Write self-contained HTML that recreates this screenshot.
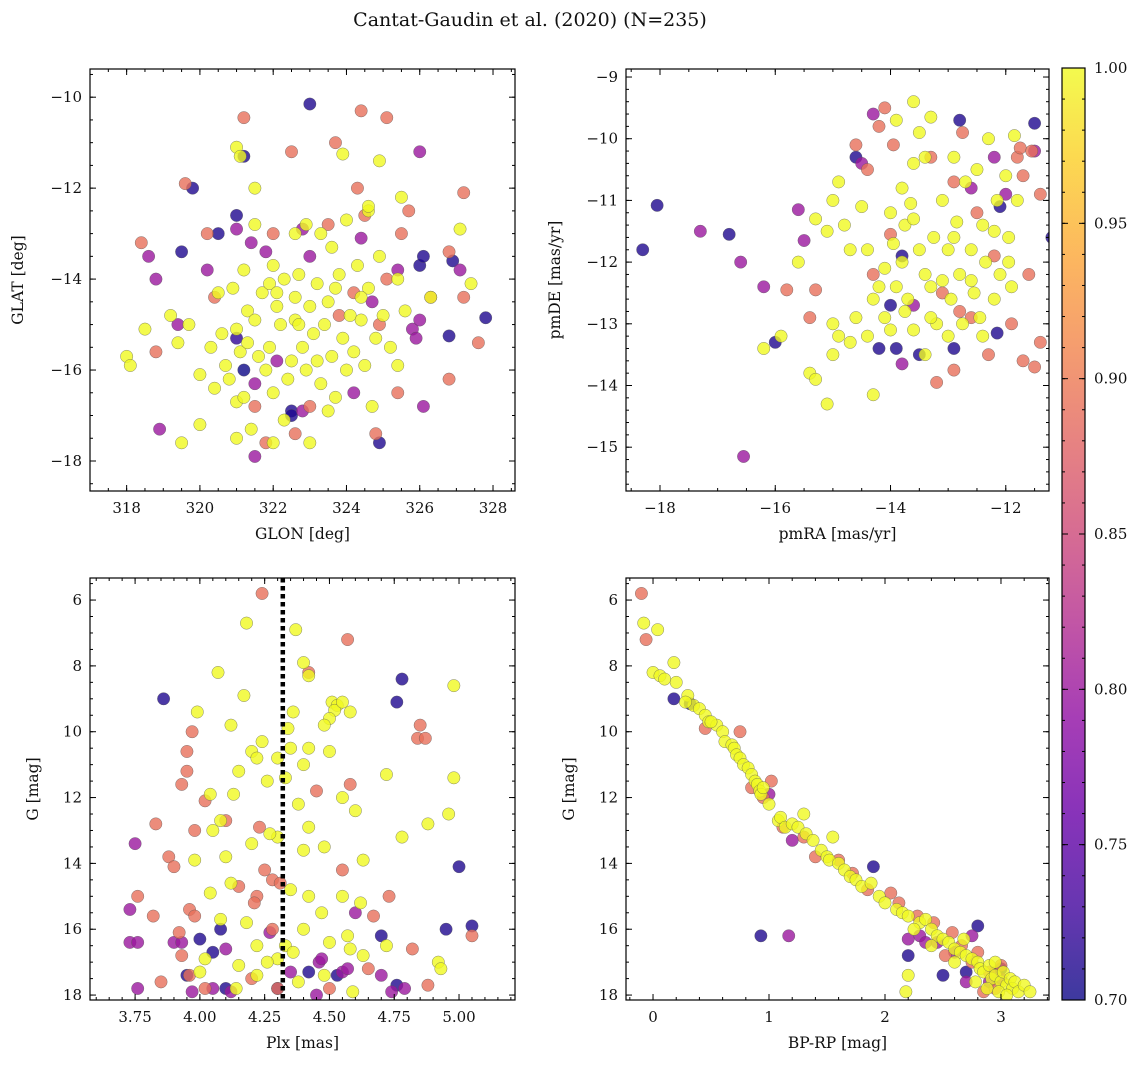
<!DOCTYPE html>
<html><head><meta charset="utf-8">
<style>
html,body{margin:0;padding:0;background:#fff;}
svg text{font-family:"DejaVu Serif","Liberation Serif",serif;fill:#111;}
</style></head>
<body>
<svg id="fig" width="1148" height="1068" viewBox="0 0 1148 1068" xmlns="http://www.w3.org/2000/svg">
<text x="530" y="26" font-size="19" text-anchor="middle">Cantat-Gaudin et al. (2020) (N=235)</text>
</svg>
<script>
// ---------- Data ----------
const glonGlat = [
[323.0,-10.15,.71],[319.8,-12.0,.71],[321.2,-11.3,.71],[321.0,-12.6,.71],[320.5,-13.0,.71],[319.5,-13.4,.71],[326.0,-13.7,.71],[326.1,-13.5,.71],[326.9,-13.6,.71],[327.8,-14.85,.71],[326.8,-15.25,.71],[321.2,-16.0,.7],[322.5,-16.9,.71],[322.5,-17.0,.71],[324.9,-17.6,.71],[321.0,-15.3,.72],
[321.2,-10.45,.89],[324.4,-10.3,.89],[325.1,-10.45,.89],[322.5,-11.2,.89],[323.7,-11.0,.89],[327.2,-12.1,.89],[319.6,-11.9,.89],[318.4,-13.2,.89],[320.2,-13.0,.89],[324.3,-12.0,.89],[325.7,-12.5,.89],[323.5,-12.8,.89],[324.5,-12.6,.89],[325.5,-13.0,.89],[326.8,-13.4,.89],[318.8,-15.6,.89],[320.4,-14.4,.89],[326.3,-14.4,.89],[327.2,-14.4,.89],[327.6,-15.4,.89],[326.8,-16.2,.89],[325.4,-16.5,.89],[324.8,-17.4,.89],[322.6,-17.4,.89],[321.8,-17.6,.89],[323.0,-16.8,.89],[324.9,-15.0,.89],[325.1,-14.0,.89],[324.2,-14.3,.89],[321.5,-16.8,.89],[322.0,-13.0,.89],[323.8,-14.8,.89],
[321.0,-12.9,.8],[318.6,-13.5,.8],[318.8,-14.0,.8],[320.2,-13.8,.8],[322.8,-12.9,.8],[321.4,-13.2,.8],[324.4,-13.1,.8],[321.8,-13.4,.8],[323.0,-13.5,.8],[326.0,-11.2,.8],[325.4,-13.8,.8],[324.7,-14.5,.8],[325.8,-15.1,.8],[326.0,-14.9,.8],[327.1,-13.8,.8],[325.9,-15.3,.8],[319.4,-15.0,.8],[318.9,-17.3,.8],[321.5,-17.9,.8],[322.1,-15.8,.8],[324.2,-16.5,.8],[326.1,-16.8,.8],[322.8,-16.9,.8],[321.5,-16.3,.8],
[321.0,-11.1,1],[321.1,-11.3,1],[323.9,-11.25,1],[324.9,-11.4,1],[321.5,-12.0,1],[321.5,-12.8,1],[322.6,-13.0,1],[322.9,-12.8,1],[323.3,-13.0,1],[324.6,-12.5,1],[324.6,-12.4,1],[324.0,-12.7,1],[325.5,-12.2,1],[327.1,-12.9,1],[325.4,-14.0,1],[325.6,-14.7,1],[326.3,-14.4,1],[327.4,-14.1,1],[318.0,-15.7,1],[318.1,-15.9,1],[318.5,-15.1,1],[319.2,-14.8,1],[319.4,-15.4,1],[319.5,-17.6,1],[320.0,-17.2,1],[320.0,-16.1,1],[320.3,-15.5,1],[320.4,-16.4,1],[320.5,-14.3,1],[320.7,-15.9,1],[320.9,-14.2,1],[321.0,-15.1,1],[321.0,-16.7,1],[321.1,-15.6,1],[321.2,-16.6,1],[321.3,-14.7,1],[321.3,-15.4,1],[321.4,-17.3,1],[321.5,-14.9,1],[321.6,-15.7,1],[321.7,-14.3,1],[321.8,-16.0,1],[321.9,-14.1,1],[321.9,-15.5,1],[322.0,-16.5,1],[322.0,-17.6,1],[322.1,-14.6,1],[322.2,-15.0,1],[322.3,-14.0,1],[322.4,-16.2,1],[322.5,-15.8,1],[322.6,-14.4,1],[322.6,-14.9,1],[322.7,-13.9,1],[322.8,-15.5,1],[322.9,-16.0,1],[323.0,-14.6,1],[323.0,-17.6,1],[323.1,-15.2,1],[323.2,-14.1,1],[323.3,-16.3,1],[323.4,-15.0,1],[323.5,-14.5,1],[323.6,-15.7,1],[323.7,-16.6,1],[323.8,-13.9,1],[323.9,-15.3,1],[324.0,-16.0,1],[324.1,-14.8,1],[324.2,-15.6,1],[324.3,-13.7,1],[324.4,-14.9,1],[324.5,-15.9,1],[324.6,-14.2,1],[324.7,-16.8,1],[324.8,-15.3,1],[324.9,-13.5,1],[325.0,-14.8,1],[325.2,-15.5,1],[325.4,-15.9,1],[322.0,-13.7,1],[321.2,-13.8,1],[320.6,-15.2,1],[319.7,-15.0,1],[323.6,-13.3,1],[324.4,-14.4,1],[322.3,-17.1,1],[321.0,-17.5,1],[323.5,-16.9,1],[322.7,-15.0,1],[323.7,-14.2,1],[322.1,-14.3,1],[323.2,-15.8,1],[320.8,-16.2,1]
];
const pmraPmde = [
[-18.3,-11.8,.71],[-18.05,-11.08,.71],[-16.8,-11.55,.71],[-16.0,-13.3,.71],[-14.6,-10.3,.71],[-12.8,-9.7,.71],[-11.5,-9.75,.71],[-12.1,-11.1,.71],[-11.2,-11.6,.71],[-13.8,-11.9,.71],[-14.2,-13.4,.71],[-13.9,-13.4,.71],[-13.5,-13.5,.71],[-12.9,-13.4,.71],[-12.15,-13.15,.71],[-14.0,-12.7,.71],
[-17.3,-11.5,.8],[-16.6,-12.0,.8],[-16.2,-12.4,.8],[-15.6,-11.15,.8],[-15.5,-11.65,.8],[-14.3,-9.6,.8],[-14.5,-10.4,.8],[-12.2,-10.3,.8],[-12.0,-10.9,.8],[-11.5,-10.2,.8],[-11.15,-13.0,.8],[-13.8,-13.65,.8],[-16.55,-15.15,.8],[-12.6,-10.8,.8],[-13.6,-12.7,.8],
[-14.1,-9.5,.89],[-14.2,-9.8,.89],[-13.95,-10.1,.89],[-14.6,-10.1,.89],[-14.4,-10.5,.89],[-15.8,-12.45,.89],[-15.4,-12.9,.89],[-15.3,-12.45,.89],[-14.0,-11.55,.89],[-13.3,-10.3,.89],[-12.75,-9.9,.89],[-12.9,-10.7,.89],[-11.8,-10.3,.89],[-11.75,-10.15,.89],[-11.55,-10.2,.89],[-11.4,-10.9,.89],[-11.6,-12.2,.89],[-11.9,-13.0,.89],[-11.7,-13.6,.89],[-11.5,-13.7,.89],[-11.4,-13.3,.89],[-12.9,-13.75,.89],[-13.2,-13.95,.89],[-12.3,-13.5,.89],[-12.6,-12.9,.89],[-12.2,-11.9,.89],[-12.5,-11.2,.89],[-11.7,-10.6,.89],[-12.8,-12.8,.89],[-13.1,-12.5,.89],[-14.3,-12.2,.89],
[-13.6,-9.4,1],[-13.3,-9.65,1],[-13.9,-9.7,1],[-14.9,-10.7,1],[-15.0,-11.0,1],[-15.1,-11.5,1],[-15.3,-11.3,1],[-14.8,-11.4,1],[-14.4,-11.8,1],[-14.7,-11.8,1],[-15.6,-12.0,1],[-15.9,-13.2,1],[-16.2,-13.4,1],[-15.4,-13.8,1],[-15.3,-13.9,1],[-15.1,-14.3,1],[-15.0,-13.5,1],[-14.9,-13.2,1],[-15.0,-13.0,1],[-14.7,-13.3,1],[-14.6,-12.9,1],[-14.3,-14.15,1],[-14.2,-12.4,1],[-14.1,-12.9,1],[-14.0,-13.1,1],[-13.95,-11.7,1],[-13.9,-12.4,1],[-13.8,-12.0,1],[-13.8,-10.8,1],[-13.75,-11.4,1],[-13.7,-12.6,1],[-13.6,-10.4,1],[-13.6,-13.1,1],[-13.5,-11.8,1],[-13.4,-12.2,1],[-13.4,-10.3,1],[-13.3,-12.4,1],[-13.25,-11.6,1],[-13.2,-13.0,1],[-13.1,-11.0,1],[-13.1,-12.3,1],[-13.0,-11.8,1],[-12.95,-12.6,1],[-12.9,-10.3,1],[-12.85,-11.35,1],[-12.8,-12.2,1],[-12.75,-13.0,1],[-12.7,-10.7,1],[-12.6,-11.8,1],[-12.55,-12.5,1],[-12.5,-10.5,1],[-12.4,-11.4,1],[-12.35,-12.0,1],[-12.3,-10.0,1],[-12.2,-12.6,1],[-12.15,-11.0,1],[-12.1,-12.2,1],[-12.0,-10.6,1],[-11.95,-11.6,1],[-11.9,-12.4,1],[-11.85,-9.95,1],[-11.8,-11.0,1],[-13.65,-11.05,1],[-13.5,-9.9,1],[-14.0,-11.2,1],[-14.3,-12.6,1],[-13.75,-12.8,1],[-14.1,-12.1,1],[-13.3,-12.9,1],[-12.6,-12.3,1],[-13.0,-13.2,1],[-12.45,-12.9,1],[-14.5,-11.1,1],[-13.6,-11.3,1],[-12.9,-11.6,1],[-12.2,-11.5,1],[-11.95,-12.0,1],[-12.4,-13.2,1],[-13.4,-13.5,1],[-14.4,-13.2,1]
];
const plxG = [
[3.86,9.0,.71],[4.78,8.4,.71],[4.76,9.1,.71],[3.95,17.4,.71],[4.0,16.3,.71],[4.05,16.7,.71],[4.1,17.8,.71],[4.3,17.8,.71],[4.42,17.3,.71],[4.7,16.2,.71],[4.76,17.7,.71],[4.95,16.0,.71],[5.0,14.1,.71],[5.05,15.9,.71],[4.53,17.4,.71],[4.08,16.0,.71],
[3.75,13.4,.8],[3.73,15.4,.8],[3.73,16.4,.8],[3.76,16.4,.8],[3.9,16.4,.8],[3.93,16.4,.8],[3.76,17.8,.8],[4.1,16.6,.8],[4.12,17.9,.8],[4.05,17.8,.8],[4.27,16.1,.8],[4.35,17.3,.8],[4.46,17.0,.8],[4.55,17.3,.8],[4.57,17.2,.8],[4.7,17.4,.8],[4.74,17.9,.8],[4.47,16.9,.8],[4.6,15.5,.8],[4.45,18.0,.8],[3.97,17.9,.8],[4.79,17.8,.8],
[4.24,5.8,.89],[4.57,7.2,.89],[3.97,10.0,.89],[3.95,10.6,.89],[3.95,11.2,.89],[3.93,11.6,.89],[3.98,13.0,.89],[4.02,12.1,.89],[3.83,12.8,.89],[3.88,13.8,.89],[3.9,14.1,.89],[3.76,15.0,.89],[3.82,15.6,.89],[3.96,15.4,.89],[3.98,15.6,.89],[3.92,16.1,.89],[3.93,16.8,.89],[3.96,17.4,.89],[3.85,17.6,.89],[4.1,12.7,.89],[4.15,14.7,.89],[4.23,12.9,.89],[4.25,14.2,.89],[4.28,14.5,.89],[4.31,14.6,.89],[4.22,15.0,.89],[4.21,15.2,.89],[4.28,16.0,.89],[4.42,8.2,.89],[4.45,11.8,.89],[4.58,11.6,.89],[4.67,15.6,.89],[4.73,15.0,.89],[4.85,9.8,.89],[4.84,10.2,.89],[4.87,10.2,.89],[4.82,16.6,.89],[4.55,14.2,.89],[5.05,16.2,.89],[4.02,17.8,.89],[4.2,17.5,.89],[4.3,17.8,.89],[4.5,17.8,.89],[4.65,17.2,.89],[4.88,17.7,.89],
[4.18,6.7,1],[4.37,6.9,1],[4.07,8.2,1],[4.17,8.9,1],[4.4,7.9,1],[4.42,8.3,1],[4.51,9.1,1],[4.53,9.2,1],[4.52,9.35,1],[4.55,9.1,1],[4.5,9.6,1],[4.48,9.8,1],[4.58,9.4,1],[4.36,9.4,1],[3.99,9.4,1],[4.12,9.8,1],[4.34,9.9,1],[4.24,10.3,1],[4.2,10.6,1],[4.22,10.8,1],[4.3,10.8,1],[4.35,10.5,1],[4.42,10.5,1],[4.5,10.6,1],[4.4,11.0,1],[4.33,11.4,1],[4.15,11.2,1],[4.26,11.5,1],[4.04,11.9,1],[4.13,11.9,1],[4.08,12.7,1],[4.38,12.2,1],[4.42,12.9,1],[4.55,12.0,1],[4.6,12.4,1],[4.72,11.3,1],[4.98,8.6,1],[4.98,11.4,1],[4.96,12.5,1],[4.88,12.8,1],[4.78,13.2,1],[4.4,13.6,1],[4.48,13.5,1],[4.3,13.2,1],[4.27,13.1,1],[4.1,13.8,1],[4.05,13.0,1],[3.98,13.9,1],[4.12,14.6,1],[4.04,14.9,1],[4.08,15.7,1],[4.18,15.8,1],[4.35,14.8,1],[4.42,15.0,1],[4.47,15.5,1],[4.55,15.0,1],[4.62,15.2,1],[4.57,16.2,1],[4.58,16.6,1],[4.4,16.0,1],[4.33,16.5,1],[4.3,16.9,1],[4.92,17.0,1],[4.93,17.2,1],[4.0,17.3,1],[4.02,16.9,1],[4.15,17.1,1],[4.22,17.4,1],[4.14,17.8,1],[4.26,17.0,1],[4.38,17.6,1],[4.48,17.4,1],[4.59,17.9,1],[4.63,16.8,1],[4.72,16.5,1],[4.5,16.4,1],[4.22,16.5,1],[4.36,16.7,1],[4.63,13.9,1],[4.2,13.4,1]
];
const bprpG = [
[-0.1,5.8,.89],[-0.06,7.2,.89],[0.45,9.9,.89],[0.75,10.0,.89],[0.85,11.7,.89],[0.95,12.0,.89],[1.02,11.5,.89],[1.12,12.9,.89],[1.3,13.2,.89],[1.4,13.8,.89],[1.6,13.9,.89],[1.72,14.3,.89],[1.85,14.8,.89],[2.05,14.9,.89],[2.12,15.2,.89],[2.28,15.6,.89],[2.42,15.8,.89],[2.58,16.1,.89],[2.66,16.5,.89],[2.8,16.7,.89],[2.9,17.3,.89],[2.85,17.9,.89],[2.95,17.8,.89],[3.0,17.1,.89],[2.75,17.0,.89],[2.52,16.8,.89],
[1.17,16.2,.8],[1.2,13.3,.8],[2.3,16.2,.8],[2.35,16.4,.8],[2.45,16.4,.8],[2.6,16.7,.8],[2.75,16.2,.8],[2.7,17.6,.8],[2.9,17.6,.8],[2.95,17.3,.8],[3.0,17.5,.8],[2.2,16.3,.8],[1.0,11.9,.8],
[0.18,9.0,.71],[0.32,9.15,.71],[0.93,16.2,.71],[1.9,14.1,.71],[2.2,16.8,.71],[2.5,17.4,.71],[2.7,17.3,.71],[2.8,15.9,.71],[3.0,17.2,.71],
[-0.08,6.7,1],[0.04,6.9,1],[0.0,8.2,1],[0.06,8.3,1],[0.18,7.9,1],[0.1,8.4,1],[0.2,8.5,1],[0.3,8.9,1],[0.35,9.2,1],[0.4,9.3,1],[0.45,9.5,1],[0.48,9.7,1],[0.55,9.8,1],[0.6,10.0,1],[0.62,10.3,1],[0.68,10.4,1],[0.7,10.5,1],[0.72,10.7,1],[0.75,10.8,1],[0.78,11.0,1],[0.82,11.1,1],[0.85,11.3,1],[0.88,11.5,1],[0.9,11.6,1],[0.92,11.8,1],[0.93,11.9,1],[0.95,11.7,1],[1.08,12.7,1],[1.1,12.6,1],[1.14,12.9,1],[1.2,12.8,1],[1.25,12.9,1],[1.32,13.1,1],[1.38,13.3,1],[1.45,13.6,1],[1.5,13.8,1],[1.52,13.9,1],[1.6,14.0,1],[1.65,14.2,1],[1.7,14.4,1],[1.75,14.5,1],[1.8,14.7,1],[1.88,14.6,1],[1.95,15.0,1],[2.0,15.2,1],[2.1,15.4,1],[2.15,15.5,1],[2.2,15.6,1],[2.3,15.8,1],[2.35,15.7,1],[2.4,16.0,1],[2.45,16.2,1],[2.5,16.3,1],[2.55,16.4,1],[2.6,16.6,1],[2.65,16.7,1],[2.7,16.8,1],[2.75,16.9,1],[2.8,17.0,1],[2.82,17.2,1],[2.85,17.3,1],[2.9,17.1,1],[2.92,17.5,1],[2.95,17.4,1],[3.0,17.6,1],[3.02,17.3,1],[3.05,17.7,1],[3.08,17.5,1],[3.1,17.8,1],[3.12,17.6,1],[3.15,17.9,1],[3.2,17.7,1],[3.25,17.9,1],[2.88,17.8,1],[2.98,17.9,1],[2.6,17.0,1],[2.4,16.5,1],[2.25,16.0,1],[2.2,17.4,1],[2.18,17.9,1],[1.55,13.2,1],[1.3,12.5,1],[1.0,12.2,1],[0.5,9.7,1],[0.28,9.1,1],[2.68,16.3,1],[2.95,17.0,1],[3.05,18.0,1],[2.78,17.6,1]
];
const ticksGlon = [318,320,322,324,326,328];
const ticksGlat = [-10,-12,-14,-16,-18];
const ticksPmra = [-18,-16,-14,-12];
const ticksPmde = [-9,-10,-11,-12,-13,-14,-15];
const ticksPlx = [3.75,4.00,4.25,4.50,4.75,5.00];
const ticksG = [6,8,10,12,14,16,18];
const ticksBprp = [0,1,2,3];
const ticksCbar = [0.70,0.75,0.80,0.85,0.90,0.95,1.00];
const plxLine = 4.32;

// ---------- Rendering ----------
const NS = "http://www.w3.org/2000/svg";
const svg = document.getElementById('fig');
function mk(tag, attrs, parent){const e=document.createElementNS(NS,tag);for(const k in attrs)e.setAttribute(k,attrs[k]);(parent||svg).appendChild(e);return e;}
const defs=mk('defs',{},svg);
const stops=[[0,[13,8,135]],[.1,[65,4,157]],[.2,[106,0,168]],[.3,[143,13,164]],[.4,[177,42,144]],[.5,[204,71,120]],[.6,[225,100,98]],[.7,[242,132,75]],[.8,[252,166,54]],[.9,[252,206,37]],[1,[240,249,33]]];
function plasma(t){t=Math.max(0,Math.min(1,t));for(let i=1;i<stops.length;i++){if(t<=stops[i][0]){const a=stops[i-1],b=stops[i];const f=(t-a[0])/(b[0]-a[0]);const c=a[1].map((v,j)=>Math.round(v+(b[1][j]-v)*f));return `rgb(${c[0]},${c[1]},${c[2]})`;}}return 'rgb(240,249,33)';}
function pcol(p){return plasma((p-0.7)/0.3);}
function fmt(v,d){const s=Math.abs(v).toFixed(d);return (v<0?'\u2212':'')+s;}

function panel(cfg){
  const {name,L,R,T,B,xd,yd,xt,yt,xminor,yminor,xdec,ydec,xlabel,ylabel,data,ylabx}=cfg;
  const sx=v=>L+(v-xd[0])/(xd[1]-xd[0])*(R-L);
  const sy=v=>T+(v-yd[0])/(yd[1]-yd[0])*(B-T);
  const cp=mk('clipPath',{id:'clip-'+name},defs);
  mk('rect',{x:L,y:T,width:R-L,height:B-T},cp);
  const g=mk('g',{});
  
  
  const pts=mk('g',{'clip-path':'url(#clip-'+name+')'},g);
  
  
  const sorted=data.slice().sort((a,b)=>a[2]-b[2]);
  sorted.forEach(d=>{
    const c=mk('circle',{cx:sx(d[0]),cy:sy(d[1]),r:6.2,fill:pcol(d[2]),'fill-opacity':0.8,stroke:'#555','stroke-width':0.5,'stroke-opacity':0.7},pts);
    
    
  });
  if(cfg.vline!==undefined){
    const l=mk('line',{x1:sx(cfg.vline),x2:sx(cfg.vline),y1:T,y2:B,stroke:'#000','stroke-width':4.5,'stroke-dasharray':'4.5 3.5'},g);
    
    
  }
  const fr=mk('rect',{x:L,y:T,width:R-L,height:B-T,fill:'none',stroke:'#000','stroke-width':1.2},g);
  
  
  const tk=mk('g',{stroke:'#000','stroke-width':1},g);
  const xlo=Math.min(...xd),xhi=Math.max(...xd),ylo=Math.min(...yd),yhi=Math.max(...yd);
  for(let v=Math.ceil(xlo/xminor-1e-9)*xminor;v<=xhi;v+=xminor){const x=sx(v);mk('line',{x1:x,x2:x,y1:B,y2:B-3},tk);mk('line',{x1:x,x2:x,y1:T,y2:T+3},tk);}
  for(let v=Math.ceil(ylo/yminor-1e-9)*yminor;v<=yhi;v+=yminor){const y=sy(v);mk('line',{x1:L,x2:L+3,y1:y,y2:y},tk);mk('line',{x1:R,x2:R-3,y1:y,y2:y},tk);}
  xt.forEach(v=>{const x=sx(v);mk('line',{x1:x,x2:x,y1:B,y2:B-6},tk);mk('line',{x1:x,x2:x,y1:T,y2:T+6},tk);
    const t=mk('text',{x:x,y:B+22,'font-size':15,'text-anchor':'middle'},g);t.textContent=fmt(v,xdec);
    });
  yt.forEach(v=>{const y=sy(v);mk('line',{x1:L,x2:L+6,y1:y,y2:y},tk);mk('line',{x1:R,x2:R-6,y1:y,y2:y},tk);
    const t=mk('text',{x:L-8,y:y+5,'font-size':15,'text-anchor':'end'},g);t.textContent=fmt(v,ydec);
    });
  const xl=mk('text',{x:(L+R)/2,y:B+48,'font-size':15.5,'text-anchor':'middle'},g);xl.textContent=xlabel;
  
  const yl=mk('text',{x:ylabx,y:(T+B)/2,'font-size':15.5,'text-anchor':'middle',transform:`rotate(-90 ${ylabx} ${(T+B)/2})`},g);yl.textContent=ylabel;
  
}

panel({name:'glon-glat-panel',L:90,R:515,T:69,B:491,xd:[317.0,328.6],yd:[-9.38,-18.66],xt:ticksGlon,yt:ticksGlat,xminor:0.5,yminor:0.5,xdec:0,ydec:0,xlabel:'GLON [deg]',ylabel:'GLAT [deg]',data:glonGlat,ylabx:23});
panel({name:'proper-motion-panel',L:626,R:1049,T:69,B:491,xd:[-18.59,-11.25],yd:[-8.87,-15.71],xt:ticksPmra,yt:ticksPmde,xminor:0.5,yminor:0.2,xdec:0,ydec:0,xlabel:'pmRA [mas/yr]',ylabel:'pmDE [mas/yr]',data:pmraPmde,ylabx:560});
panel({name:'parallax-magnitude-panel',L:90,R:515,T:578,B:1000,xd:[3.576,5.216],yd:[5.33,18.15],xt:ticksPlx,yt:ticksG,xminor:0.05,yminor:0.5,xdec:2,ydec:0,xlabel:'Plx [mas]',ylabel:'G [mag]',data:plxG,ylabx:38,vline:plxLine});
panel({name:'color-magnitude-panel',L:626,R:1049,T:578,B:1000,xd:[-0.233,3.414],yd:[5.33,18.15],xt:ticksBprp,yt:ticksG,xminor:0.2,yminor:0.5,xdec:0,ydec:0,xlabel:'BP-RP [mag]',ylabel:'G [mag]',data:bprpG,ylabx:574});

// colorbar
const cb=mk('g',{});


const lg=mk('linearGradient',{id:'cbg',x1:0,y1:1,x2:0,y2:0},defs);
for(let i=0;i<=20;i++){mk('stop',{offset:i/20,'stop-color':plasma(i/20),'stop-opacity':0.8},lg);}
const CL=1062,CR=1085,CT=68,CB=1000;
mk('rect',{x:CL,y:CT,width:CR-CL,height:CB-CT,fill:'url(#cbg)',stroke:'#000','stroke-width':1.2},cb);
const cy=v=>CB-(v-0.7)/0.3*(CB-CT);
for(let i=0;i<=30;i++){const v=0.7+i*0.01;const y=cy(v);mk('line',{x1:CR,x2:CR-3,y1:y,y2:y,stroke:'#000'},cb);mk('line',{x1:CL,x2:CL+3,y1:y,y2:y,stroke:'#000'},cb);}
ticksCbar.forEach(v=>{const y=cy(v);mk('line',{x1:CR,x2:CR-6,y1:y,y2:y,stroke:'#000'},cb);mk('line',{x1:CL,x2:CL+6,y1:y,y2:y,stroke:'#000'},cb);
  const t=mk('text',{x:CR+9,y:y+5,'font-size':15},cb);t.textContent=v.toFixed(2);
  });
</script>
</body></html>
